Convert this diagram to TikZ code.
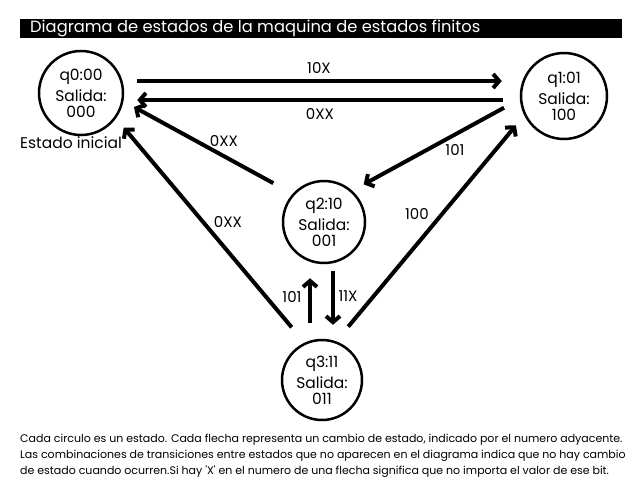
\documentclass[tikz,border=0pt]{standalone}
\usepackage{fontspec}
\setmainfont{Poppins}
\usetikzlibrary{arrows.meta}

\begin{document}
\begin{tikzpicture}[x=1pt, y=-1pt, ->, >={Straight Barb[length=6pt,width=14pt]},
    estado/.style={circle, draw, line width=2.5pt, inner sep=0pt, align=center,
      font=\fontsize{15.5}{16}\selectfont},
    flecha/.style={line width=4pt},
    etiqueta/.style={font=\fontsize{15}{15}\selectfont},
    nota/.style={anchor=west, inner sep=0pt, font=\fontsize{11}{11}\selectfont}]
  \useasboundingbox (0,0) rectangle (640,480);
  % titulo
  \node[fill=black, minimum width=602pt, minimum height=19pt, anchor=north west, inner sep=0pt] (barra) at (20,19) {};
  \node[anchor=west, text=white, inner sep=0pt, font=\fontsize{16.3}{16.3}\selectfont] (titulo) at (30,28.5) {Diagrama de estados de la maquina de estados finitos};
  % estados
  \node[estado, minimum size=84pt] (q0) at (81,93) {q0:00\\[5pt]Salida:\\000};
  \node[estado, minimum size=86pt] (q1) at (564,96) {q1:01\\[5pt]Salida:\\100};
  \node[estado, minimum size=82pt] (q2) at (324,222) {q2:10\\[5pt]Salida:\\001};
  \node[estado, minimum size=80pt] (q3) at (322,380) {q3:11\\[5pt]Salida:\\011};
  \node[etiqueta, font=\fontsize{15.5}{15.5}\selectfont] (inicial) at (71,143) {Estado inicial};
  % transiciones
  \draw[flecha, shorten <=13pt, shorten >=18pt] ([yshift=12pt]q0.east) -- ([yshift=12pt]q0.east -| q1.west);
  \draw[flecha, shorten <=17pt, shorten >=13pt] ([yshift=-7pt]q0.east -| q1.west) -- ([yshift=-7pt]q0.east);
  \draw[flecha, shorten <=22pt, shorten >=12pt] (q2.138) -- (q0.-11);
  \draw[flecha, shorten <=20pt, shorten >=12pt] (q3.115) -- (q0.-36);
  \draw[flecha, shorten <=18pt, shorten >=13pt] (q1.184) -- (q2.48);
  \draw[flecha, shorten <=19pt, shorten >=13pt] (q3.70) -- (q1.206);
  \draw[flecha, shorten <=16pt, shorten >=14pt] ([xshift=-12pt]q3.north) -- ([xshift=-12pt]q3.north |- q2.south);
  \draw[flecha, shorten <=7pt, shorten >=14pt] ([xshift=9pt]q2.south) -- ([xshift=9pt]q2.south |- q3.north);
  % etiquetas
  \node[etiqueta] (e10X) at (319,68) {10X};
  \node[etiqueta] (e0XXa) at (320,114) {0XX};
  \node[etiqueta] (e0XXb) at (224,141) {0XX};
  \node[etiqueta] (e0XXc) at (228,222) {0XX};
  \node[etiqueta] (e101a) at (455,150) {101};
  \node[etiqueta] (e100) at (417,214) {100};
  \node[etiqueta] (e101b) at (292,297) {101};
  \node[etiqueta] (e11X) at (348,296) {11X};
  % nota
  \node[nota] (nota1) at (20,440) {Cada circulo es un estado. Cada flecha representa un cambio de estado, indicado por el numero adyacente.};
  \node[nota] (nota2) at (20,456) {Las combinaciones de transiciones entre estados que no aparecen en el diagrama indica que no hay cambio};
  \node[nota] (nota3) at (20,472) {de estado cuando ocurren.Si hay \textquotesingle X\textquotesingle\ en el numero de una flecha significa que no importa el valor de ese bit.};
\end{tikzpicture}
\end{document}
